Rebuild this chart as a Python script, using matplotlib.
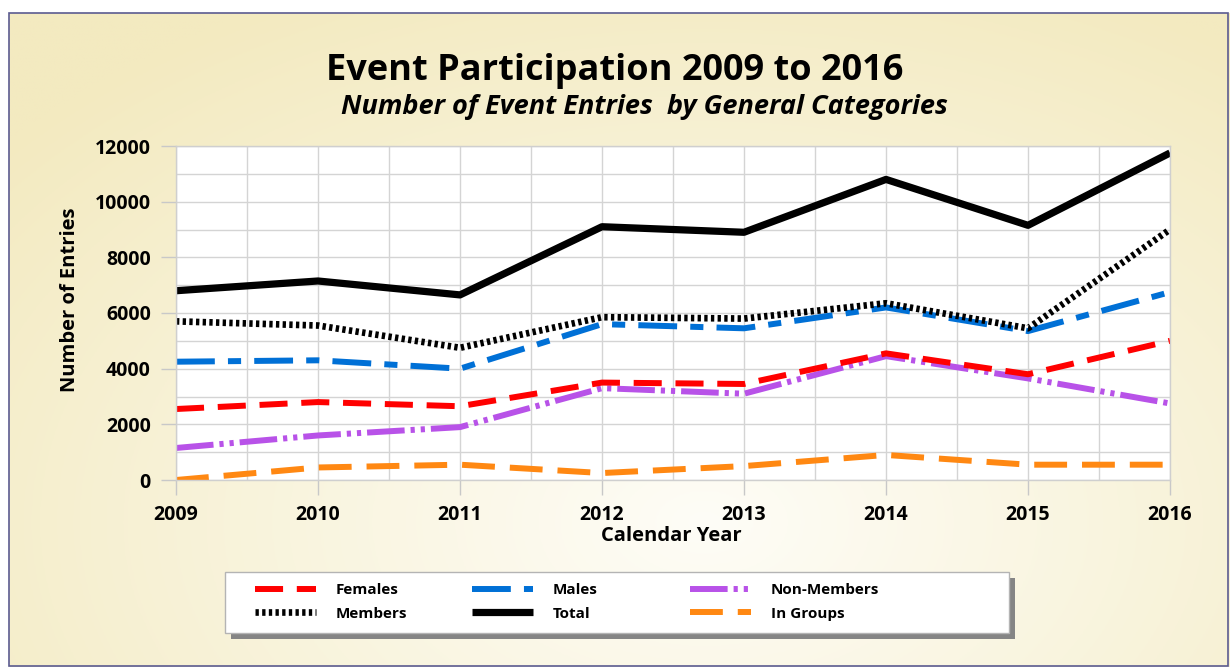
import numpy as np
from matplotlib import pyplot as plt
from matplotlib.patches import Rectangle
from matplotlib.ticker import MultipleLocator

plt.rcParams['font.family'] = ['Open Sans', 'DejaVu Sans']
plt.rcParams['font.weight'] = 'bold'

# data
years = [2009, 2010, 2011, 2012, 2013, 2014, 2015, 2016]
females = [2550, 2800, 2650, 3500, 3450, 4550, 3800, 5000]
males = [4250, 4300, 4000, 5600, 5450, 6200, 5350, 6750]
non_members = [1150, 1600, 1900, 3300, 3100, 4450, 3650, 2750]
members = [5700, 5550, 4750, 5850, 5800, 6350, 5450, 9000]
total = [6800, 7150, 6650, 9100, 8900, 10800, 9150, 11750]
in_groups = [0, 450, 550, 250, 500, 900, 550, 550]


def main():
    W, H = 1230, 667
    fig = plt.figure(figsize=(W / 100, H / 100), dpi=100)

    # background: radial gradient inside the border
    bg = fig.add_axes([0, 0, 1, 1], zorder=-10)
    bg.set_axis_off()
    gx, gy = np.meshgrid(np.linspace(0, 1, 400), np.linspace(0, 1, 220))
    r = np.sqrt(((gx - 0.57) / 0.75) ** 2 + ((gy - 0.22) / 0.9) ** 2)
    r = np.clip(r, 0, 1)
    light = np.array([254, 253, 247]) / 255
    edge = np.array([243, 234, 192]) / 255
    img = light[None, None, :] * (1 - r[..., None]) + edge[None, None, :] * r[..., None]
    x0b, y1b = 9 / W, 1 - 13 / H
    bg.imshow(img, extent=[x0b, 1, 0, y1b], origin='lower', aspect='auto')
    bg.set_xlim(0, 1)
    bg.set_ylim(0, 1)
    bg.add_patch(Rectangle((x0b, 0.002), 1 - x0b - 0.002, y1b - 0.002,
                           fill=False, edgecolor='#5b5b90', lw=1.2))

    ax = fig.add_axes([176 / W, 1 - 480 / H, 994 / W, 334 / H])
    ax.set_facecolor('white')

    lw = 4.3
    ax.plot(years, in_groups, color='#ff8812', lw=lw, dashes=(5.5, 2.5), label='In Groups')
    ax.plot(years, non_members, color='#b852e8', lw=lw,
            dashes=(6.3, 1.0, 0.7, 1.0, 0.7, 1.0), label='Non-Members')
    ax.plot(years, females, color='#ff0000', lw=lw, dashes=(4.7, 2.3), label='Females')
    ax.plot(years, males, color='#0070d6', lw=lw, dashes=(6.5, 2.2, 2.2, 2.2), label='Males')
    ax.plot(years, members, color='black', lw=4.8, dashes=(0.5, 0.5), label='Members')
    ax.plot(years, total, color='black', lw=5.2, solid_capstyle='butt', label='Total')

    ax.set_xlim(2009, 2016)
    ax.set_ylim(0, 12000)
    ax.xaxis.set_major_locator(MultipleLocator(1))
    ax.xaxis.set_minor_locator(MultipleLocator(0.5))
    ax.yaxis.set_major_locator(MultipleLocator(2000))
    ax.yaxis.set_minor_locator(MultipleLocator(1000))
    ax.grid(which='both', color='#d4d4d4', lw=1.0)
    ax.set_axisbelow(True)
    ax.tick_params(which='major', length=11, color='#c8c8c8', width=1.0,
                   labelsize=14, pad=7)
    ax.tick_params(which='minor', length=0)
    for lab in ax.get_xticklabels() + ax.get_yticklabels():
        lab.set_fontweight('bold')
    for s in ax.spines.values():
        s.set_color('#cfcfcf')
        s.set_linewidth(1.0)

    fig.text(0.500, 0.893, 'Event Participation 2009 to 2016', ha='center', va='center',
             fontsize=26, fontweight='bold')
    fig.text(0.524, 0.840, 'Number of Event Entries  by General Categories', ha='center',
             va='center', fontsize=19.5, fontweight='bold', style='italic')
    fig.text(0.057, 0.55, 'Number of Entries', rotation=90, ha='center', va='center',
             fontsize=14.5, fontweight='bold')
    fig.text(0.546, 0.196, 'Calendar Year', ha='center', va='center',
             fontsize=14.5, fontweight='bold')

    # legend box with shadow
    lx, ly, lwid, lh = 225 / W, 1 - 633 / H, 784 / W, 61 / H
    fig.patches.append(Rectangle((lx + 6 / W, ly - 6 / H), lwid, lh, transform=fig.transFigure,
                                 facecolor='#858585', edgecolor='none', zorder=1))
    fig.patches.append(Rectangle((lx, ly), lwid, lh, transform=fig.transFigure,
                                 facecolor='white', edgecolor='#b4b4b4', lw=1.0, zorder=2))

    handles, labels = ax.get_legend_handles_labels()
    lookup = dict(zip(labels, handles))
    columns = [('Females', 'Members'), ('Males', 'Total'), ('Non-Members', 'In Groups')]
    col_x = [255 / W, 472 / W, 690 / W]
    for cx, names in zip(col_x, columns):
        leg = fig.legend([lookup[n] for n in names], list(names), loc='center left',
                         bbox_to_anchor=(cx, 1 - 602 / H), bbox_transform=fig.transFigure,
                         frameon=False, fontsize=11, handlelength=4.0, handletextpad=1.3,
                         labelspacing=0.62, borderpad=0, borderaxespad=0)
        leg.set_zorder(5)
        for t in leg.get_texts():
            t.set_fontweight('bold')

    fig.savefig('out.png', dpi=100)


if __name__ == '__main__':
    main()
